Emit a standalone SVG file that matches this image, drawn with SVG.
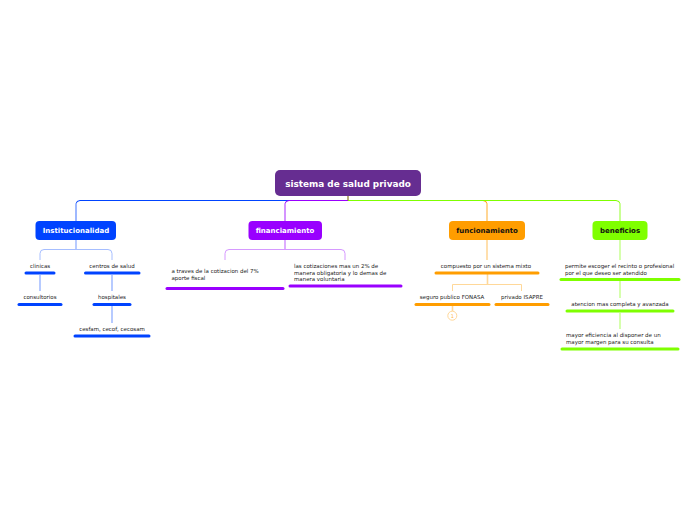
<svg xmlns="http://www.w3.org/2000/svg" width="696" height="520" viewBox="0 0 696 520">
<style>
text{font-family:"DejaVu Sans",Verdana,sans-serif;font-size:5.48px;fill:#222}
.c{text-anchor:middle}
.h{font-size:7px;font-weight:bold;text-anchor:middle;fill:#fff}
.b{stroke-width:3px;stroke-linecap:round;fill:none}
.l{fill:none;stroke-width:1px}
.v{fill:none;stroke-width:1.6px}
.bl{stroke:#0043ff}.pu{stroke:#9900ff}.or{stroke:#ff9d00}.gr{stroke:#7fff00}
.lb{stroke:#a6beff}.lp{stroke:#d699ff}.lo{stroke:#ffd899}.lg{stroke:#ccff99}
</style>
<rect width="696" height="520" fill="#fff"/>
<g id="connectors">
<path class="l or" d="M348 200.500H483q4 0 4 4V221"/>
<path class="l gr" d="M348 200.500H616q4 0 4 4V221"/>
<path class="l bl" d="M348 200.500H80q-4 0-4 4V221"/>
<path class="l pu" d="M348 200.500H289q-4 0-4 4V221"/>
<path d="M348 196V200.500" stroke="#8a7a20" stroke-width="1.2" fill="none"/>
<path class="v lb" d="M76 203V221"/>
<path class="v lp" d="M285 203V221"/>
<path class="v lo" d="M487 203V221"/>
<path class="v lg" d="M620 203V221"/>
<path class="v lb" d="M76 240V249.500"/>
<path class="l lb" d="M40 260V253.500q0-4 4-4H108q4 0 4 4V260"/>
<path class="v lb" d="M40 275V291M112 275V291M112 306V323"/>
<path class="v lp" d="M285 240V249.500"/>
<path class="l lp" d="M225 260V253.500q0-4 4-4H341q4 0 4 4V260"/>
<path class="v lo" d="M487 240V260M487.500 274V284.500M452.500 306V311"/>
<path class="l lo" d="M452.500 291V284.500H521.500V291"/>
<path class="v lg" d="M620 240V260M620 281V298M620 313V329"/>
</g>
<g id="marker"><circle cx="452.300" cy="315.700" r="4.500" fill="#fff" stroke="#ffd899" stroke-width="1"/><text class="c" x="452.300" y="317.500" style="font-size:5px;fill:#ffb84d">1</text></g>
<g id="root"><rect x="275" y="170" width="146" height="26" rx="5" fill="#662d91"/><text class="h" x="348" y="187" style="font-size:8.9px">sistema de salud privado</text></g>
<g id="institucionalidad"><rect x="35.500" y="221" width="80.500" height="19" rx="4" fill="#0043ff"/><text class="h" x="76" y="233">Institucionalidad</text></g>
<g id="financiamiento"><rect x="248.500" y="221" width="73.500" height="19" rx="4" fill="#9900ff"/><text class="h" x="285" y="233">financiamiento</text></g>
<g id="funcionamiento"><rect x="449" y="221" width="76" height="19" rx="4" fill="#ff9d00"/><text class="h" x="487" y="233" style="fill:#111">funcionamiento</text></g>
<g id="beneficios"><rect x="592.500" y="221" width="55" height="19" rx="4" fill="#7fff00"/><text class="h" x="620" y="233" style="fill:#111">beneficios</text></g>
<g id="clinicas"><text class="c" x="40" y="268">clinicas</text><path class="b bl" d="M26 273H54"/></g>
<g id="centros"><text class="c" x="112" y="268">centros de salud</text><path class="b bl" d="M85.500 273H139"/></g>
<g id="consultorios"><text class="c" x="40" y="299">consultorios</text><path class="b bl" d="M19 304.500H61"/></g>
<g id="hospitales"><text class="c" x="112" y="299">hospitales</text><path class="b bl" d="M94 304.500H130"/></g>
<g id="cesfam"><text class="c" x="112" y="331">cesfam, cecof, cecosam</text><path class="b bl" d="M75 336H149"/></g>
<g id="traves"><text x="171.500" y="273">a traves de la cotizacion del 7%</text><text x="171.500" y="279.500">aporte fiscal</text><path class="b pu" d="M167 288.500H283"/></g>
<g id="cotizaciones"><text x="294" y="268">las cotizaciones mas un 2% de</text><text x="294" y="274.500">manera obligatoria y lo demas de</text><text x="294" y="281">manera voluntaria</text><path class="b pu" d="M290 286H401"/></g>
<g id="compuesto"><text class="c" x="486" y="268">compuesto por un sistema mixto</text><path class="b or" d="M436 273H538"/></g>
<g id="fonasa"><text class="c" x="452" y="299">seguro publico FONASA</text><path class="b or" d="M416 304.500H489"/></g>
<g id="isapre"><text class="c" x="522" y="299">privado ISAPRE</text><path class="b or" d="M496 304.500H548"/></g>
<g id="permite"><text x="565" y="268">permite escoger el recinto o profesional</text><text x="565" y="274.500">por el que deseo ser atendido</text><path class="b gr" d="M561 279.500H679"/></g>
<g id="atencion"><text class="c" x="620" y="306">atencion mas completa y avanzada</text><path class="b gr" d="M567 311H673"/></g>
<g id="mayor"><text x="566" y="337">mayor eficiencia al disponer de un</text><text x="566" y="344">mayor margen para su consulta</text><path class="b gr" d="M562 349H678"/></g>
</svg>
